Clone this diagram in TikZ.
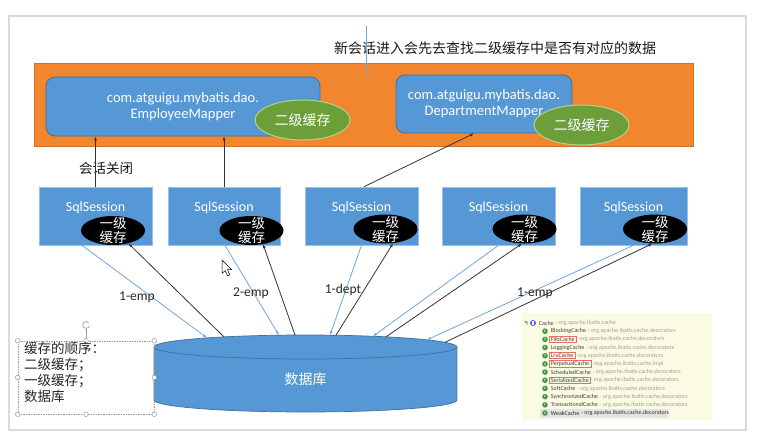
\documentclass[tikz,border=0pt]{standalone}
\usepackage{fontspec}
\setmainfont{Carlito}
\newfontfamily\cjk{Noto Sans CJK SC}
\usetikzlibrary{shapes.geometric,arrows.meta}
\definecolor{frameg}{RGB}{218,218,218}
\definecolor{orangebg}{RGB}{242,134,46}
\definecolor{boxblue}{RGB}{86,151,213}
\definecolor{darkblue}{RGB}{65,113,156}
\definecolor{cgreen}{RGB}{108,158,58}
\definecolor{cgreenb}{RGB}{178,212,142}
\definecolor{lineblue}{RGB}{112,166,222}
\definecolor{panel}{RGB}{251,251,228}
\definecolor{iconG}{RGB}{70,150,70}
\definecolor{redb}{RGB}{232,110,100}
\begin{document}
\begin{tikzpicture}[x=1pt,y=-1pt,
  mapper/.style={draw=darkblue, line width=0.8pt, fill=boxblue, rounded corners=9pt, text=white,
    font=\fontsize{14.5}{16}\selectfont, align=center, inner sep=0},
  sess/.style={draw=boxblue!60!white, line width=0.6pt, fill=boxblue, minimum height=58pt, inner sep=0},
  sesstxt/.style={text=white, font=\fontsize{14}{16}\selectfont, inner sep=0},
  lone/.style={ellipse, fill=black, minimum width=64pt, minimum height=29pt, inner sep=0},
  lonetxt/.style={text=white, font=\cjk\fontsize{13.5}{14}\selectfont, align=center, inner sep=0},
  ltwo/.style={ellipse, fill=cgreen, draw=cgreenb, line width=1pt, minimum width=95pt, minimum height=40pt,
    inner sep=0, text=white, font=\cjk\fontsize{14}{16}\selectfont},
  toarrow/.style={draw=black!80, line width=0.8pt, -{Latex[length=4pt,width=3pt]}},
  dbarrow/.style={draw=lineblue, line width=0.8pt, -{Latex[length=4pt,width=3pt]}},
  lbl/.style={font=\fontsize{13.5}{15}\selectfont, text=black!85, inner sep=0},
  handle/.style={draw=gray!80, fill=white, line width=0.5pt},
  rowname/.style={font=\fontsize{6}{7}\selectfont, text=black!75, inner sep=0.7pt, anchor=west},
  rowpkg/.style={font=\fontsize{6}{7}\selectfont, text=gray!75, inner sep=0.7pt, anchor=west},
  redbox/.style={draw=redb, line width=0.6pt}
]
\useasboundingbox (0,0) rectangle (763,444);
\fill[white] (0,0) rectangle (763,444);
% page frame
\draw[frameg, line width=1.8pt] (9,16) rectangle (746,430);

% top text and line
\node[font=\cjk\fontsize{14}{16}\selectfont, text=black!90, inner sep=0] (title) at (495,48) {新会话进入会先去查找二级缓存中是否有对应的数据};

% orange second-level area
\node[fill=orangebg, draw=orangebg!85!black, line width=0.4pt, minimum width=659pt, minimum height=83pt, inner sep=0] (orange) at (363.5,104.5) {};
\coordinate (vtop) at (366,26);
\coordinate (vbot) at (366,76);
\draw[lineblue, line width=0.8pt] (vtop) -- (vbot);

% mappers
\node[mapper, minimum width=274pt, minimum height=59pt] (emp) at (183,106.5) {com.atguigu.mybatis.dao.\\EmployeeMapper};
\node[mapper, minimum width=176pt, minimum height=58pt] (dept) at (484,104) {com.atguigu.mybatis.dao.\\DepartmentMapper};
\node[ltwo] (c2a) at (302.5,120) {二级缓存};
\node[ltwo] (c2b) at (581.5,125) {二级缓存};

% sessions
\foreach \i/\cx/\w/\ex/\ey in {1/95.5/113/113/230.5, 2/224/112/251.5/230.5, 3/361.5/113/385.5/229, 4/498.5/113/524.5/229, 5/633.5/107/655/229} {
  \node[sess, minimum width=\w pt] (s\i) at (\cx,216) {};
  \node[sesstxt] (st\i) at (\cx,208) {SqlSession};
  \node[lone] (e\i) at (\ex,\ey) {};
  \node[lonetxt] (et\i) at (\ex,\ey) {一级\\缓存};
}

\node[font=\cjk\fontsize{13.5}{15}\selectfont, text=black!90, inner sep=0] (close) at (106,168) {会话关闭};

% session -> mapper
\draw[toarrow] (s1.north) -- (s1.north |- emp.south);
\draw[toarrow] (s2.north) -- (s2.north |- emp.south);
\draw[toarrow] ([xshift=2.5pt]s3.north) -- ([xshift=-10pt]dept.south);

% database
\fill[boxblue] (154,347) rectangle (457,400);
\fill[boxblue] (305.5,400) ellipse [x radius=151.5, y radius=12];
\draw[darkblue, line width=0.7pt] (154,347) -- (154,400) arc[start angle=180, end angle=0, x radius=151.5, y radius=12] -- (457,347);
\filldraw[fill=boxblue, draw=darkblue, line width=0.7pt] (305.5,347) ellipse [x radius=151.5, y radius=12];
\node[text=white, font=\cjk\fontsize{14}{16}\selectfont, inner sep=0] (db) at (305.5,379) {数据库};

\coordinate (b1) at (207,337.9);
\coordinate (k1) at (224,336.9);
\coordinate (b2) at (279,335.2);
\coordinate (k2) at (295,335.0);
\coordinate (b3) at (330,335.2);
\coordinate (k3) at (336,335.2);
\coordinate (b4) at (373,336.3);
\coordinate (k4) at (386,336.8);
\coordinate (b5) at (427,339.8);
\coordinate (k5) at (445,342.3);

\draw[dbarrow] ([xshift=-13.5pt]s1.south) -- (b1);
\draw[toarrow] (k1) -- (e1.-40);
\draw[dbarrow] ([xshift=1pt]s2.south) -- (b2);
\draw[toarrow] (k2) -- (e2.-50);
\draw[dbarrow] (s3.south) -- (b3);
\draw[toarrow] (k3) -- (e3.-62);
\draw[dbarrow] (s4.south) -- (b4);
\draw[toarrow] (k4) -- (e4.-100);
\draw[dbarrow] (s5.south) -- (b5);
\draw[toarrow] (k5) -- (e5.-100);

\node[lbl] (l1) at (137,297) {1-emp};
\node[lbl] (l2) at (251,293) {2-emp};
\node[lbl] (l3) at (343,290) {1-dept};
\node[lbl] (l4) at (535,293) {1-emp};

% cursor
\draw[fill=white, draw=black, line width=0.5pt, line join=round] (222,260) -- (222,273.5) -- (225.2,270.5) -- (227.6,275.8) -- (229.8,274.8) -- (227.4,269.6) -- (231.6,269.6) -- cycle;

% selected text box
\node[draw=gray!80, dash pattern=on 1.5pt off 1pt, line width=0.5pt, minimum width=136pt, minimum height=73pt, inner sep=0] (tb) at (86,377.5) {};
\coordinate (rot) at (86,325);
\draw[gray!80, line width=0.6pt] (tb.north) -- (86,329);
\draw[gray!70, line width=0.8pt] (rot) ++(40:3.4pt) arc[start angle=40, end angle=340, radius=3.4pt];
\foreach \a in {north west, north, north east, west, east, south west, south, south east}
  \draw[handle] (tb.\a) circle (2.3pt);
\node[anchor=north west, align=left, font=\cjk\fontsize{13.5}{16}\selectfont, inner sep=0, text=black!85] (order) at (24,341.5) {缓存的顺序：\\二级缓存；\\一级缓存；\\数据库};

% cache class screenshot
\fill[panel] (522,313) rectangle (712,420);
\fill[gray!22] (540,409) rectangle (668,417.5);
\fill[gray!70] (523.5,321) -- (527.5,321) -- (527.5,325) -- cycle;
\fill[blue!65!white] (533,323) circle (3pt);
\fill[white] (532.4,321.3) rectangle (533.6,324.7);
\node[rowname] (n0) at (538,323) {Cache};
\node[rowpkg] (p0) at (n0.east) {- org.apache.ibatis.cache};
\foreach \i/\nm/\pk in {1/BlockingCache/cache.decorators, 2/FifoCache/cache.decorators, 3/LoggingCache/cache.decorators, 4/LruCache/cache.decorators, 5/PerpetualCache/cache.impl, 6/ScheduledCache/cache.decorators, 7/SerializedCache/cache.decorators, 8/SoftCache/cache.decorators, 9/SynchronizedCache/cache.decorators, 10/TransactionalCache/cache.decorators} {
  \fill[iconG] (545,323+\i*8.18) circle (2.8pt);
  \node[font=\fontsize{3.5}{4}\selectfont\bfseries, text=white, inner sep=0] (ic\i) at (545,323+\i*8.18) {C};
  \node[rowname] (n\i) at (550,323+\i*8.18) {\nm};
  \node[rowpkg] (p\i) at (n\i.east) {- org.apache.ibatis.\pk};
}
\fill[iconG] (545,413) circle (2.8pt);
\node[font=\fontsize{3.5}{4}\selectfont\bfseries, text=white, inner sep=0] (ic11) at (545,413) {C};
\node[rowname, text=black!85] (n11) at (550,413) {WeakCache};
\node[rowname, text=black!80] (p11) at (n11.east) {- org.apache.ibatis.cache.decorators};
\foreach \i in {2,4,5,7}
  \draw[redbox] ([xshift=-0.6pt]n\i.south west) rectangle ([xshift=0.8pt]n\i.north east);
\end{tikzpicture}
\end{document}
